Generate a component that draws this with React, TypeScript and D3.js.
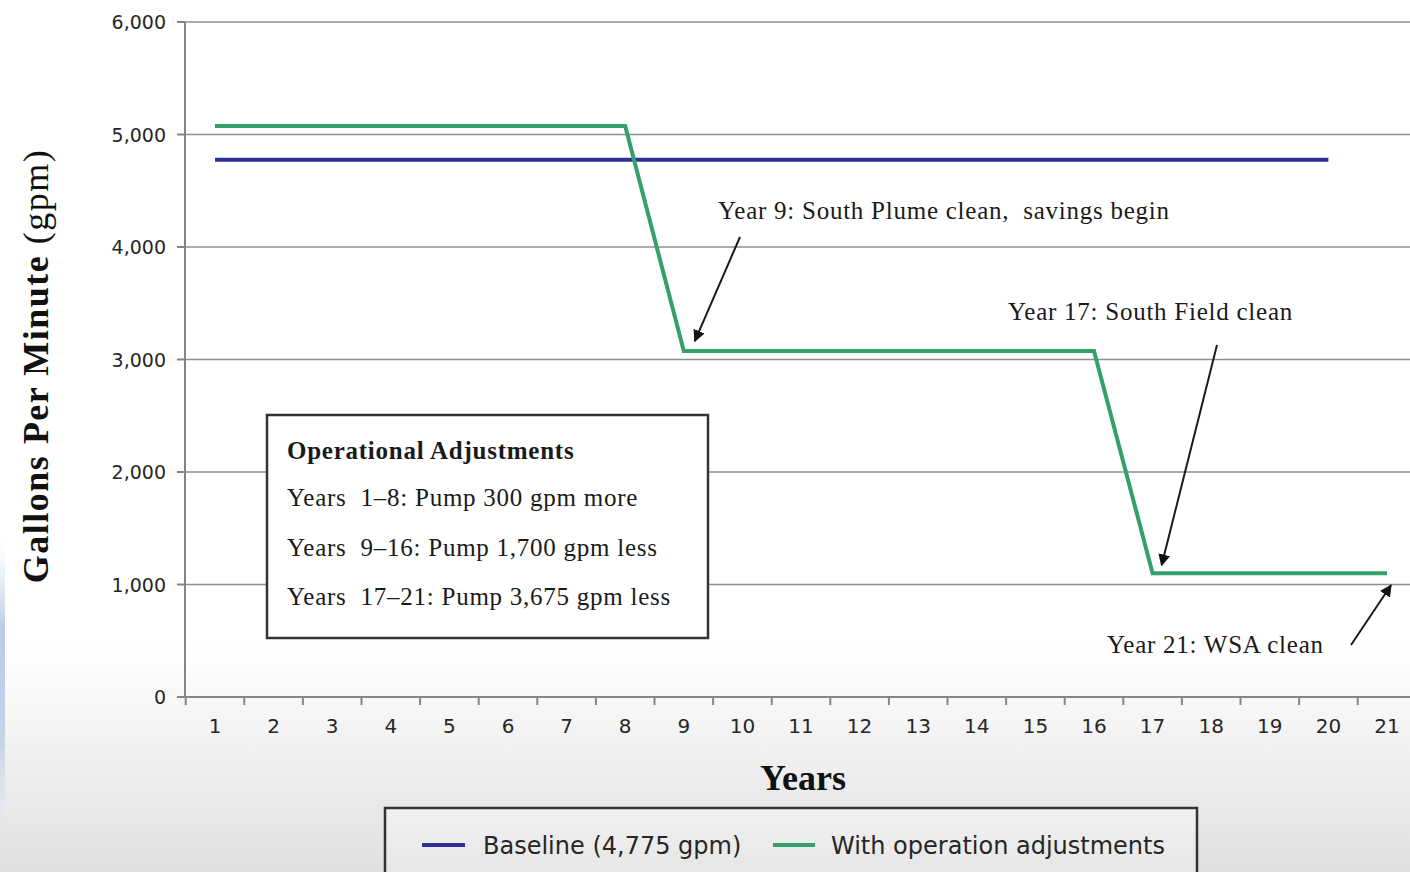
import React from "react";
import * as d3 from "d3";

const years = d3.range(1, 22);
const baselineYears = d3.range(1, 21);
const baselineValue = 4775;
const adjustedValues = [
  5075, 5075, 5075, 5075, 5075, 5075, 5075, 5075,
  3075, 3075, 3075, 3075, 3075, 3075, 3075, 3075,
  1100, 1100, 1100, 1100, 1100,
];
const yTicks = [0, 1000, 2000, 3000, 4000, 5000, 6000];
const boxTitle = "Operational Adjustments";
const boxLines = [
  "Years  1–8: Pump 300 gpm more",
  "Years  9–16: Pump 1,700 gpm less",
  "Years  17–21: Pump 3,675 gpm less",
];
const seriesNames = ["Baseline (4,775 gpm)", "With operation adjustments"];

const W = 1410;
const H = 872;
const BLUE = "#2f2f9c";
const GREEN = "#35a06a";
const SANS = "'DejaVu Sans', Verdana, sans-serif";
const SERIF = "'Liberation Serif', 'Times New Roman', serif";

export default function App() {
  const x = d3
    .scaleBand<number>()
    .domain(years)
    .range([185.7, 185.7 + 21 * 58.6])
    .paddingInner(0)
    .paddingOuter(0);
  const cx = (yr: number) => (x(yr) as number) + x.bandwidth() / 2;
  const y = d3.scaleLinear().domain([0, 6000]).range([697, 22]);

  const line = d3
    .line<[number, number]>()
    .x((d) => cx(d[0]))
    .y((d) => y(d[1]));

  const greenPath = line(years.map((yr, i) => [yr, adjustedValues[i]]));
  const bluePath = line(baselineYears.map((yr) => [yr, baselineValue]));

  const plotLeft = 185;
  const plotRight = W;

  const arrows = [
    { x1: 740, y1: 237, x2: cx(9) + 11, y2: y(adjustedValues[8]) - 10 },
    { x1: 1217, y1: 345, x2: cx(17) + 9, y2: y(adjustedValues[16]) - 8 },
    { x1: 1351, y1: 645, x2: cx(21) + 4, y2: y(adjustedValues[20]) + 12 },
  ];

  const annStyle = { whiteSpace: "pre" as const, letterSpacing: "0.75px" };

  return (
    <svg
      width={W}
      height={H}
      style={{ position: "absolute", left: 0, top: 0, display: "block" }}
      xmlns="http://www.w3.org/2000/svg"
    >
      <defs>
        <linearGradient id="bg" x1="0" y1="0" x2="0" y2="1">
          <stop offset="0" stopColor="#ffffff" />
          <stop offset="0.74" stopColor="#ffffff" />
          <stop offset="1" stopColor="#e0e0e0" />
        </linearGradient>
        <linearGradient id="edge" x1="0" y1="0" x2="0" y2="1">
          <stop offset="0" stopColor="#dbe6f3" stopOpacity="0" />
          <stop offset="0.3" stopColor="#b9cde6" stopOpacity="1" />
          <stop offset="0.7" stopColor="#c3d3e8" stopOpacity="1" />
          <stop offset="1" stopColor="#dbe6f3" stopOpacity="0" />
        </linearGradient>
        <linearGradient id="legbg" x1="0" y1="0" x2="0" y2="1">
          <stop offset="0" stopColor="#f1f1f1" />
          <stop offset="1" stopColor="#e4e4e4" />
        </linearGradient>
        <marker id="ah" viewBox="0 0 10 10" refX="9" refY="5" markerWidth="6" markerHeight="6" orient="auto">
          <path d="M0,0 L10,5 L0,10 z" fill="#111" />
        </marker>
      </defs>

      <rect x={0} y={0} width={W} height={H} fill="url(#bg)" />
      <rect x={0} y={540} width={5} height={290} fill="url(#edge)" />

      {/* gridlines */}
      {yTicks.filter((t) => t > 0).map((t) => (
        <line key={t} x1={plotLeft} x2={plotRight} y1={y(t)} y2={y(t)} stroke="#8f8f8f" strokeWidth={1.6} />
      ))}

      {/* y axis */}
      <line x1={plotLeft} x2={plotLeft} y1={y(6000)} y2={y(0)} stroke="#858585" strokeWidth={2} />
      {yTicks.map((t) => (
        <g key={"yt" + t}>
          <line x1={plotLeft - 8} x2={plotLeft} y1={y(t)} y2={y(t)} stroke="#858585" strokeWidth={2} />
          <text x={166} y={y(t) + 7} textAnchor="end" fontFamily={SANS} fontSize={19} fill="#262626">
            {d3.format(",")(t)}
          </text>
        </g>
      ))}

      {/* x axis */}
      <line x1={plotLeft} x2={plotRight} y1={y(0)} y2={y(0)} stroke="#858585" strokeWidth={2} />
      {years.map((yr) => (
        <g key={"xt" + yr}>
          <line x1={x(yr) as number} x2={x(yr) as number} y1={y(0)} y2={y(0) + 8} stroke="#858585" strokeWidth={2} />
          <text x={cx(yr)} y={733} textAnchor="middle" fontFamily={SANS} fontSize={20} fill="#262626">
            {yr}
          </text>
        </g>
      ))}

      {/* series */}
      <path d={bluePath || ""} fill="none" stroke={BLUE} strokeWidth={4} />
      <path d={greenPath || ""} fill="none" stroke={GREEN} strokeWidth={4} strokeLinejoin="miter" />

      {/* annotations */}
      <text x={718} y={219} fontFamily={SERIF} fontSize={25} fill="#1a1a1a" style={annStyle}>
        {"Year 9: South Plume clean,  savings begin"}
      </text>
      <text x={1008} y={320} fontFamily={SERIF} fontSize={25} fill="#1a1a1a" style={annStyle}>
        {"Year 17: South Field clean"}
      </text>
      <text x={1107} y={653} fontFamily={SERIF} fontSize={25} fill="#1a1a1a" style={annStyle}>
        {"Year 21: WSA clean"}
      </text>
      {arrows.map((a, i) => (
        <line key={"ar" + i} x1={a.x1} y1={a.y1} x2={a.x2} y2={a.y2} stroke="#1a1a1a" strokeWidth={2} markerEnd="url(#ah)" />
      ))}

      {/* text box */}
      <rect x={267} y={415} width={441} height={223} fill="#ffffff" stroke="#333333" strokeWidth={2.5} />
      <text x={287} y={459} fontFamily={SERIF} fontSize={25} fontWeight="bold" fill="#1a1a1a" style={annStyle}>
        {boxTitle}
      </text>
      {boxLines.map((l, i) => (
        <text key={"bl" + i} x={287} y={506 + i * 49.5} fontFamily={SERIF} fontSize={25} fill="#1a1a1a" style={annStyle}>
          {l}
        </text>
      ))}

      {/* axis titles */}
      <text
        transform="translate(48,366) rotate(-90)"
        textAnchor="middle"
        fontFamily={SERIF}
        fontSize={36}
        fill="#111"
        style={{ letterSpacing: "1.5px" }}
      >
        <tspan fontWeight="bold">Gallons Per Minute </tspan>
        <tspan>(gpm)</tspan>
      </text>
      <text x={803} y={790} textAnchor="middle" fontFamily={SERIF} fontSize={36} fontWeight="bold" fill="#111">
        Years
      </text>

      {/* legend */}
      <rect x={385} y={808} width={812} height={80} fill="url(#legbg)" stroke="#333333" strokeWidth={2.5} />
      <line x1={422} x2={465} y1={845} y2={845} stroke={BLUE} strokeWidth={4} />
      <text x={483} y={854} fontFamily={SANS} fontSize={24} fill="#262626">
        {seriesNames[0]}
      </text>
      <line x1={773} x2={815} y1={845} y2={845} stroke={GREEN} strokeWidth={4} />
      <text x={831} y={854} fontFamily={SANS} fontSize={24} fill="#262626">
        {seriesNames[1]}
      </text>
    </svg>
  );
}
